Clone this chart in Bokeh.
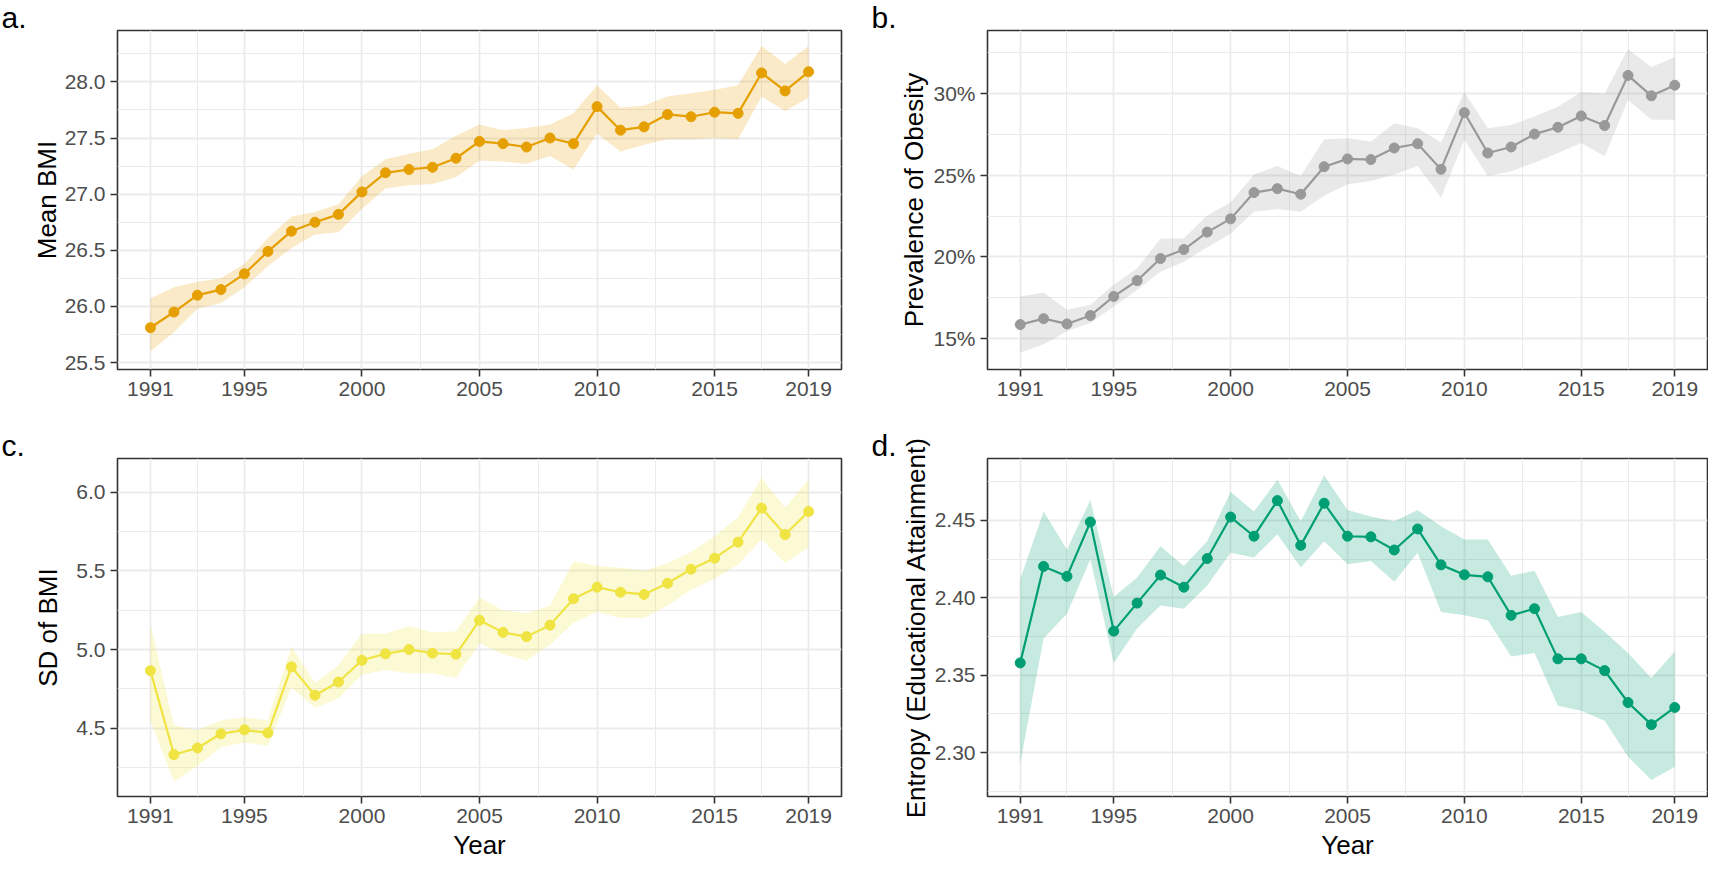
from bokeh.plotting import figure
from bokeh.models import FixedTicker, PrintfTickFormatter, Range1d, ColumnDataSource, Title
from bokeh.layouts import column, row
from bokeh.embed import file_html
from bokeh.resources import INLINE

# ---------------- data ----------------
years = list(range(1991, 2020))
x_ticks = [1991, 1995, 2000, 2005, 2010, 2015, 2019]
x_minor = [1993, 1997.5, 2002.5, 2007.5, 2012.5, 2017]

mean_bmi = [25.81, 25.95, 26.10, 26.15, 26.29, 26.49, 26.67, 26.75, 26.82, 27.02,
            27.19, 27.22, 27.24, 27.32, 27.47, 27.45, 27.42, 27.50, 27.45, 27.78,
            27.57, 27.60, 27.71, 27.69, 27.73, 27.72, 28.08, 27.92, 28.09]
mean_bmi_lo = [25.60, 25.77, 25.98, 26.03, 26.17, 26.36, 26.52, 26.64, 26.66, 26.87,
               27.05, 27.08, 27.09, 27.15, 27.30, 27.29, 27.27, 27.34, 27.22, 27.54,
               27.38, 27.44, 27.49, 27.49, 27.50, 27.49, 27.87, 27.74, 27.86]
mean_bmi_hi = [26.07, 26.17, 26.22, 26.25, 26.38, 26.61, 26.80, 26.84, 26.91, 27.16,
               27.31, 27.36, 27.40, 27.52, 27.62, 27.57, 27.59, 27.62, 27.72, 27.97,
               27.77, 27.79, 27.87, 27.90, 27.93, 27.97, 28.32, 28.16, 28.32]

obesity = [15.86, 16.22, 15.90, 16.41, 17.58, 18.55, 19.90, 20.45, 21.52, 22.33,
           23.94, 24.18, 23.84, 25.52, 26.00, 25.96, 26.67, 26.93, 25.36, 28.83,
           26.36, 26.73, 27.52, 27.94, 28.63, 28.04, 31.11, 29.86, 30.51]
obesity_lo = [14.15, 14.65, 15.45, 15.96, 16.97, 17.98, 19.09, 19.70, 20.60, 21.42,
              22.77, 22.93, 22.77, 23.74, 24.45, 24.65, 25.05, 25.56, 23.64, 27.18,
              24.95, 25.25, 25.76, 26.36, 26.97, 26.16, 29.60, 28.39, 28.39]
obesity_hi = [17.58, 17.82, 16.77, 17.07, 18.29, 19.30, 21.12, 21.15, 22.53, 23.33,
              25.05, 25.56, 24.95, 27.21, 27.27, 27.07, 28.18, 27.88, 27.00, 30.10,
              27.88, 28.08, 28.59, 29.19, 30.10, 30.00, 32.73, 31.62, 32.22]

sd_bmi = [4.866, 4.333, 4.375, 4.465, 4.490, 4.471, 4.890, 4.710, 4.794, 4.932,
          4.973, 5.000, 4.977, 4.970, 5.186, 5.109, 5.082, 5.155, 5.322, 5.396,
          5.364, 5.350, 5.421, 5.510, 5.580, 5.682, 5.898, 5.730, 5.876]
sd_bmi_lo = [4.55, 4.16, 4.26, 4.38, 4.41, 4.39, 4.76, 4.63, 4.69, 4.84,
             4.87, 4.85, 4.85, 4.82, 5.04, 4.97, 4.93, 5.03, 5.17, 5.24,
             5.20, 5.20, 5.28, 5.38, 5.45, 5.54, 5.70, 5.55, 5.65]
sd_bmi_hi = [5.16, 4.52, 4.49, 4.55, 4.57, 4.55, 5.02, 4.79, 4.90, 5.10,
             5.10, 5.15, 5.11, 5.115, 5.33, 5.25, 5.23, 5.28, 5.56, 5.53,
             5.52, 5.50, 5.55, 5.62, 5.72, 5.84, 6.09, 5.90, 6.08]

entropy = [2.3580, 2.4203, 2.4139, 2.4490, 2.3785, 2.3966, 2.4147, 2.4069, 2.4254, 2.4522,
           2.4398, 2.4628, 2.4339, 2.4611, 2.4398, 2.4394, 2.4309, 2.4445, 2.4213, 2.4149,
           2.4136, 2.3887, 2.3930, 2.3606, 2.3606, 2.3530, 2.3324, 2.3181, 2.3292]
entropy_lo = [2.2930, 2.3738, 2.3898, 2.4249, 2.3579, 2.3802, 2.3951, 2.3930, 2.4079, 2.4292,
              2.4260, 2.4410, 2.4196, 2.4366, 2.4217, 2.4238, 2.4104, 2.4292, 2.3909, 2.3887,
              2.3855, 2.3621, 2.3643, 2.3303, 2.3271, 2.3207, 2.2973, 2.2824, 2.2909]
entropy_hi = [2.4122, 2.4557, 2.4313, 2.4632, 2.4005, 2.4132, 2.4334, 2.4206, 2.4366, 2.4685,
              2.4557, 2.4764, 2.4494, 2.4792, 2.4568, 2.4526, 2.4494, 2.4568, 2.4462, 2.4377,
              2.4377, 2.4143, 2.4175, 2.3877, 2.3909, 2.3781, 2.3643, 2.3483, 2.3654]

# ---------------- styling ----------------
FONT = "Liberation Sans"
GRID = "#EBEBEB"
DARK = "#333333"
TICKTXT = "#4D4D4D"


def make_panel(tag, y, lo, hi, color, ylabel, yrange, yticks, yminor, yfmt,
               width, height, b_left, b_right, b_top, b_bottom,
               xlabel=None, label_standoff=0):
    src = ColumnDataSource(dict(year=years, y=y, lo=lo, hi=hi))
    p = figure(width=width, height=height, output_backend="svg", toolbar_location=None,
               x_range=Range1d(1989.6, 2020.4), y_range=Range1d(*yrange),
               min_border_left=b_left, min_border_right=b_right,
               min_border_top=b_top, min_border_bottom=b_bottom)
    p.background_fill_color = "white"
    p.border_fill_color = "white"
    p.outline_line_color = DARK
    p.outline_line_width = 1.6

    p.varea(x="year", y1="lo", y2="hi", source=src, fill_color=color, fill_alpha=0.22)
    p.line(x="year", y="y", source=src, line_color=color, line_width=2.2)
    p.scatter(x="year", y="y", source=src, size=10, fill_color=color, line_color=color)

    p.xaxis.ticker = FixedTicker(ticks=x_ticks, minor_ticks=x_minor)
    p.yaxis.ticker = FixedTicker(ticks=yticks, minor_ticks=yminor)
    p.yaxis.formatter = PrintfTickFormatter(format=yfmt)

    for ax in (p.xaxis, p.yaxis):
        ax.axis_line_color = None
        ax.major_tick_line_color = DARK
        ax.major_tick_line_width = 1.6
        ax.major_tick_out = 7
        ax.major_tick_in = 0
        ax.minor_tick_line_color = None
        ax.major_label_text_font = FONT
        ax.major_label_text_font_size = "21px"
        ax.major_label_text_color = TICKTXT
        ax.major_label_standoff = 5
        ax.axis_label_text_font = FONT
        ax.axis_label_text_font_size = "26px"
        ax.axis_label_text_font_style = "normal"
        ax.axis_label_text_color = "black"

    p.yaxis.axis_label = ylabel
    p.yaxis.axis_label_standoff = label_standoff
    if xlabel:
        p.xaxis.axis_label = xlabel
        p.xaxis.axis_label_standoff = 4

    for g in (p.xgrid, p.ygrid):
        g.grid_line_color = GRID
        g.grid_line_width = 1.8
        g.minor_grid_line_color = GRID
        g.minor_grid_line_width = 1.0

    p.title = Title(text=tag, align="left", offset=-116, standoff=-6,
                    text_font=FONT, text_font_size="30px", text_font_style="normal",
                    text_color="black")
    return p


WL, WR = 850, 858
HT, HB = 428, 434

pa = make_panel("a.", mean_bmi, mean_bmi_lo, mean_bmi_hi, "#E69F00", "Mean BMI",
                (25.438, 28.458), [25.5, 26.0, 26.5, 27.0, 27.5, 28.0],
                [25.75, 26.25, 26.75, 27.25, 27.75, 28.25], "%.1f",
                WL, HT, 117, 9, 30, 59, label_standoff=0)
pb = make_panel("b.", obesity, obesity_lo, obesity_hi, "#999999", "Prevalence of Obesity",
                (13.11, 33.86), [15, 20, 25, 30], [17.5, 22.5, 27.5, 32.5], "%d%%",
                WR, HT, 137, 1, 30, 59, label_standoff=1)
pc = make_panel("c.", sd_bmi, sd_bmi_lo, sd_bmi_hi, "#F0E442", "SD of BMI",
                (4.067, 6.213), [4.5, 5.0, 5.5, 6.0], [4.25, 4.75, 5.25, 5.75], "%.1f",
                WL, HB, 117, 9, 30, 65, xlabel="Year", label_standoff=10)
pd_ = make_panel("d.", entropy, entropy_lo, entropy_hi, "#009E73",
                 "Entropy (Educational Attainment)",
                 (2.2717, 2.49), [2.30, 2.35, 2.40, 2.45],
                 [2.275, 2.325, 2.375, 2.425, 2.475], "%.2f",
                 WR, HB, 137, 1, 30, 65, xlabel="Year", label_standoff=1)

layout = column(row(pa, pb), row(pc, pd_))

open("out.html", "w").write(file_html(layout, INLINE))
